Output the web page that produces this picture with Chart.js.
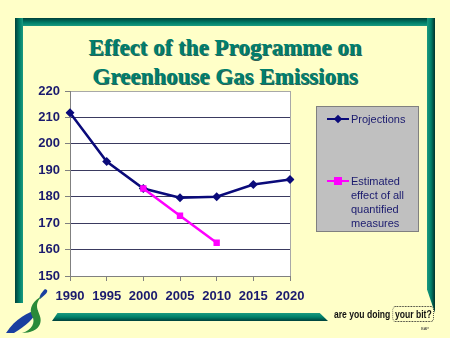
<!DOCTYPE html>
<html>
<head>
<meta charset="utf-8">
<script src="https://cdn.jsdelivr.net/npm/chart.js@4.4.0/dist/chart.umd.min.js"></script>
<style>
  html, body { margin: 0; padding: 0; }
  body { width: 450px; height: 338px; background: #FFFFC8; position: relative; overflow: hidden; font-family: Arial, "Liberation Sans", sans-serif; }
  .bar { position: absolute; }
  #frameTop { left: 15px; top: 18px; width: 420px; height: 8px; background: linear-gradient(to bottom, #00403a, #00806a 60%, #1a9a80); }
  #frameLeft { left: 15px; top: 18px; width: 8px; height: 285px; background: linear-gradient(to right, #00403a, #00806a 60%, #1a9a80); }
  #frameRight { left: 427px; top: 18px; width: 8px; height: 295px; background: linear-gradient(to left, #00302a, #00806a 50%, #1a9a80);
    clip-path: polygon(0 0, 100% 0, 100% 100%, 0 92%); }
  #frameBottom { left: 52px; top: 313px; width: 276px; height: 8px; background: linear-gradient(to bottom, #1a9a80, #00806a 50%, #00403a);
    clip-path: polygon(2% 0, 97% 0, 100% 100%, 0 100%); }
  #title { position: absolute; left: 0; top: 33px; width: 450px; text-align: center;
    font-family: "Liberation Serif", "Times New Roman", "DejaVu Serif", serif; font-weight: bold; font-size: 23px; line-height: 29px;
    color: #00806e; text-shadow: 1px 1px 0 #2f5f55; }
  #chartBox { position: absolute; left: 0; top: 0; width: 450px; height: 338px; }
  #legend { position: absolute; left: 316px; top: 106px; width: 101px; height: 124px; background: #C0C0C0; border: 1px solid #808080; }
  .item { position: absolute; left: 10px; font-size: 11px; color: #1a1a6e; line-height: 14px; }
  .swatch { position: absolute; left: 0; width: 22px; height: 2px; }
  .mark { position: absolute; }
  .txt { position: absolute; left: 24px; width: 70px; }
  #slogan { position: absolute; left: 334px; top: 308px; white-space: nowrap; transform-origin: 0 0; transform: scaleX(0.78);
    font-family: "Liberation Sans", Arial, sans-serif; font-weight: bold; font-size: 11px; color: #111; }
  #slogan span { border: 1px dotted #222; border-radius: 4px; padding: 1px 2px; }
  #bap { position: absolute; left: 421px; top: 326px; font-size: 4px; color: #333; }
</style>
</head>
<body>
<div class="bar" id="frameTop"></div>
<div class="bar" id="frameLeft"></div>
<div class="bar" id="frameRight"></div>
<div class="bar" id="frameBottom"></div>

<svg style="position:absolute;left:0;top:0" width="60" height="338">
  <path d="M6 333 C16 318, 28 312, 38 310 C34 318, 26 326, 14 333 Z" fill="#1a3fa0"/>
  <path d="M40 299 C46 294, 48 292, 47 290 L45 289 C40 294, 39 297, 40 299 Z" fill="#1a3fa0"/>
  <path d="M42 296 C30 308, 44 314, 40 324 C38 330, 30 333, 22 333 C32 330, 36 322, 32 316 C28 308, 34 300, 42 296 Z" fill="#2a8a3a"/>
</svg>

<div id="title">Effect of the Programme on<br>Greenhouse Gas Emissions</div>

<div id="chartBox"><canvas id="emissions" width="450" height="338"></canvas></div>

<div id="legend"></div>

<div id="slogan">are you doing <span>your bit?</span></div>
<div id="bap">BAP</div>

<script>
  // years on the x axis and the two series (Mt CO2 equivalent)
  var years = ['1990', '1995', '2000', '2005', '2010', '2015', '2020'];
  var projections = [211.8, 193.3, 183.1, 179.6, 180.0, 184.6, 186.5];
  var measures = [null, null, 183.1, 172.8, 162.6, null, null];
  var seriesNames = ['Projections', 'Estimated effect of all quantified measures'];
  var yTicks = [150, 160, 170, 180, 190, 200, 210, 220];

  var navy = '#0a0a7a';
  var pink = '#FF00FF';
  var labelColor = '#1a1a6e';

  // white plot area with a light grey right edge
  var plotBg = {
    id: 'plotBg',
    beforeDraw: function(chart) {
      var a = chart.chartArea, ctx = chart.ctx;
      ctx.save();
      ctx.fillStyle = '#ffffff';
      ctx.fillRect(a.left, a.top, a.right - a.left, a.bottom - a.top);
      ctx.restore();
    },
    beforeDatasetsDraw: function(chart) {
      var a = chart.chartArea, ctx = chart.ctx;
      ctx.save();
      ctx.strokeStyle = '#a8a8a8';
      ctx.lineWidth = 1;
      ctx.beginPath();
      ctx.moveTo(a.right + 0.5, a.top);
      ctx.lineTo(a.right + 0.5, a.bottom);
      ctx.stroke();
      ctx.restore();
    }
  };

  var ctx = document.getElementById('emissions').getContext('2d');
  var chart = new Chart(ctx, {
    type: 'line',
    data: {
      labels: years,
      datasets: [
        {
          label: seriesNames[0],
          data: projections,
          borderColor: navy,
          backgroundColor: navy,
          borderWidth: 2.5,
          pointStyle: 'rectRot',
          pointRadius: 4.5,
          pointBorderWidth: 0,
          tension: 0,
          order: 2
        },
        {
          label: seriesNames[1],
          data: measures,
          borderColor: pink,
          backgroundColor: pink,
          borderWidth: 2.5,
          pointStyle: 'rect',
          pointRadius: 4.5,
          pointBorderWidth: 0,
          tension: 0,
          order: 1
        }
      ]
    },
    options: {
      responsive: false,
      animation: false,
      layout: { padding: { top: 91, right: 160, bottom: 32, left: 0 } },
      plugins: { legend: { display: false }, tooltip: { enabled: false } },
      scales: {
        x: {
          offset: false,
          grid: { drawOnChartArea: false, tickLength: 5, color: '#808080' },
          border: { color: '#808080' },
          ticks: { color: labelColor, font: { family: 'Arial', size: 13, weight: 'bold' }, padding: 8, maxRotation: 0 },
          afterFit: function(s) { s.height = 30; }
        },
        y: {
          min: yTicks[0],
          max: yTicks[yTicks.length - 1],
          afterBuildTicks: function(s) { s.ticks = yTicks.map(function(v) { return { value: v }; }); },
          grid: {
            tickLength: 5,
            color: function(c) { return c.tick && c.tick.value === 220 ? '#a8a8a8' : '#3a3a60'; },
            tickColor: '#808080'
          },
          border: { color: '#808080' },
          ticks: { color: labelColor, font: { family: 'Arial', size: 13, weight: 'bold' }, padding: 5 },
          afterFit: function(s) { s.width = 70; }
        }
      }
    },
    plugins: [plotBg]
  });

  // legend box built from the dataset settings
  var legend = document.getElementById('legend');
  var tops = [5, 67];
  chart.data.datasets.forEach(function(ds, i) {
    var item = document.createElement('div');
    item.className = 'item';
    item.style.top = tops[i] + 'px';
    var sw = document.createElement('div');
    sw.className = 'swatch';
    sw.style.background = ds.borderColor;
    sw.style.top = '6px';
    item.appendChild(sw);
    var mk = document.createElement('div');
    mk.className = 'mark';
    mk.style.background = ds.borderColor;
    if (ds.pointStyle === 'rectRot') {
      mk.style.width = '6px'; mk.style.height = '6px';
      mk.style.left = '8px'; mk.style.top = '4px';
      mk.style.transform = 'rotate(45deg)';
    } else {
      mk.style.width = '8px'; mk.style.height = '8px';
      mk.style.left = '7px'; mk.style.top = '3px';
    }
    item.appendChild(mk);
    var t = document.createElement('div');
    t.className = 'txt';
    t.textContent = ds.label;
    item.appendChild(t);
    legend.appendChild(item);
  });
</script>
</body>
</html>
